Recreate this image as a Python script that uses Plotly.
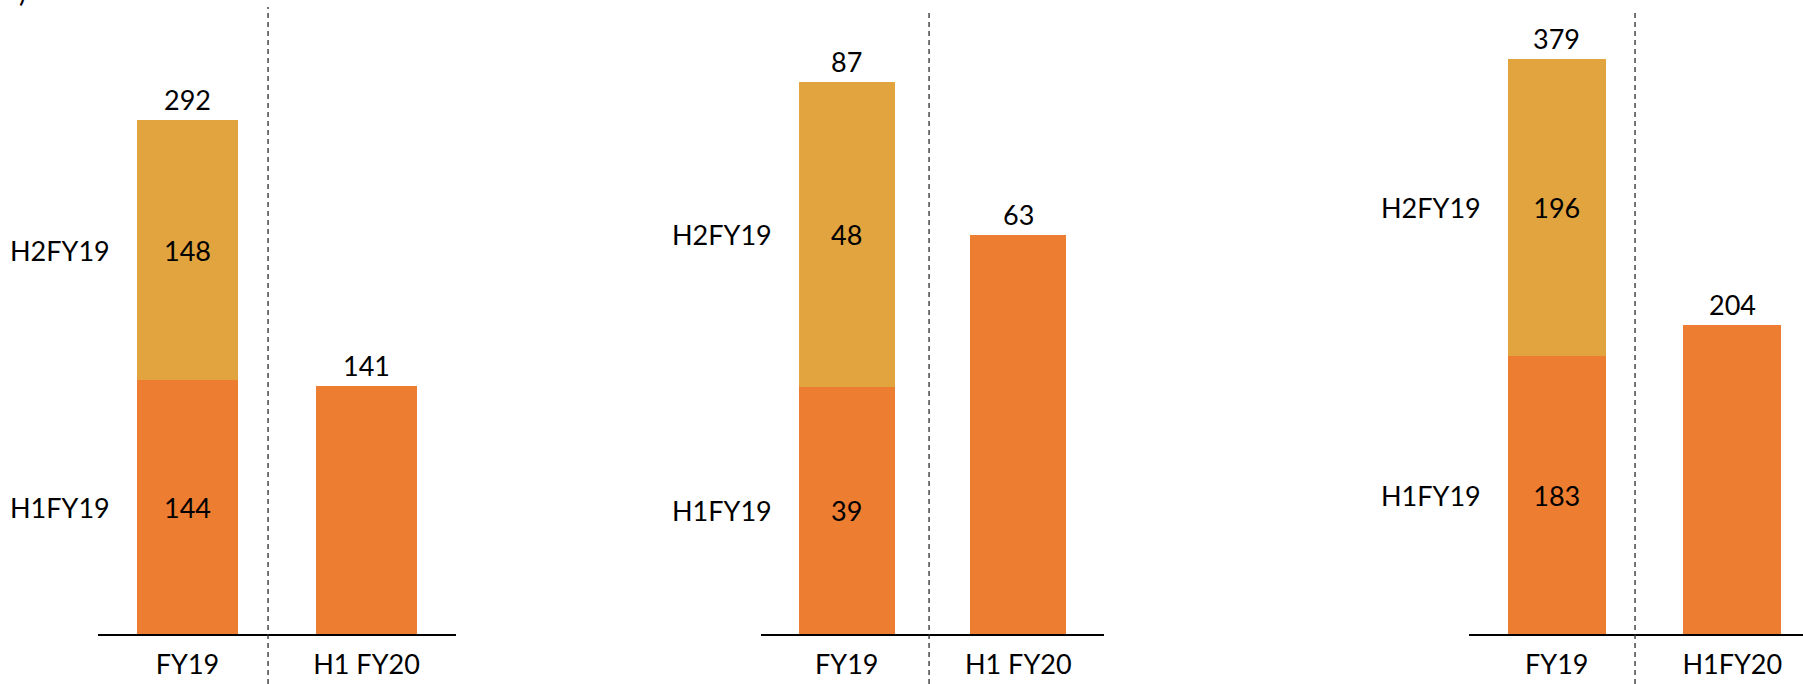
import plotly.graph_objects as go

# Half-year figures for three separate measures, each on its own scale
panel_categories = [["FY19", "H1 FY20"], ["FY19", "H1 FY20"], ["FY19", "H1FY20"]]
h1_values = [[144, 141], [39, 63], [183, 204]]
h2_values = [[148, None], [48, None], [196, None]]
segment_names = ["H1FY19", "H2FY19"]

ORANGE = "#ED7D31"
GOLD = "#E1A43F"
FONT = "Lato"
FONT_SIZE = 27
W, H = 1803, 684

x_domains = [[98 / W, 456 / W], [761 / W, 1104 / W], [1469 / W, 1.0]]
x_ranges = [[-0.5, 1.5], [-0.5, 1.5], [-0.5, 1.403]]
y_ranges = [[0, 360], [0, 100], [0, 418]]
y_domain = [50 / H, 1.0]
divider_x = [0.45, 0.48, 0.446]
divider_top_px = [7, 10, 10]
BAR_W = 0.56

fig = go.Figure()
annotations = []
shapes = []

for i in range(3):
    sfx = "" if i == 0 else str(i + 1)
    cats = panel_categories[i]
    h1 = h1_values[i]
    h2 = h2_values[i]

    fig.add_trace(go.Bar(
        x=cats, y=h1, name=segment_names[0], width=BAR_W,
        marker=dict(color=ORANGE, line=dict(width=0)),
        text=[str(h1[0]), ""], textposition="inside", insidetextanchor="middle",
        textangle=0, textfont=dict(family=FONT, size=FONT_SIZE, color="black"),
        xaxis="x" + sfx, yaxis="y" + sfx, showlegend=False, hoverinfo="skip",
    ))
    fig.add_trace(go.Bar(
        x=cats, y=h2, name=segment_names[1], width=BAR_W,
        marker=dict(color=GOLD, line=dict(width=0)),
        text=[str(h2[0]), ""], textposition="inside", insidetextanchor="middle",
        textangle=0, textfont=dict(family=FONT, size=FONT_SIZE, color="black"),
        xaxis="x" + sfx, yaxis="y" + sfx, showlegend=False, hoverinfo="skip",
    ))

    # totals above each column
    totals = [h1[0] + h2[0], h1[1]]
    for cat, tot in zip(cats, totals):
        annotations.append(dict(
            x=cat, y=tot, xref="x" + sfx, yref="y" + sfx, text=str(tot),
            showarrow=False, yanchor="bottom", yshift=2,
            font=dict(family=FONT, size=FONT_SIZE, color="black"),
        ))

    # half-year names beside the stacked column
    seg_mid = [h1[0] / 2, h1[0] + h2[0] / 2]
    for name, ym in zip(segment_names, seg_mid):
        annotations.append(dict(
            x=-BAR_W / 2, y=ym, xref="x" + sfx, yref="y" + sfx, text=name,
            showarrow=False, xanchor="right", yanchor="middle", xshift=-25,
            font=dict(family=FONT, size=FONT_SIZE, color="black"),
        ))

    # dashed divider between the two columns
    shapes.append(dict(
        type="line", xref="x" + sfx, yref="paper",
        x0=divider_x[i], x1=divider_x[i], y0=0, y1=(H - divider_top_px[i]) / H,
        line=dict(color="#2b2b2b", width=1.3, dash="5px,4px"),
    ))

    fig.update_layout(**{
        "xaxis" + sfx: dict(
            type="category", domain=x_domains[i], range=x_ranges[i],
            anchor="y" + sfx, showline=True, linecolor="black", linewidth=1.5,
            showgrid=False, zeroline=False, ticks="", ticklabelstandoff=6,
            tickfont=dict(family=FONT, size=FONT_SIZE, color="black"),
            fixedrange=True,
        ),
        "yaxis" + sfx: dict(
            domain=y_domain, range=y_ranges[i], anchor="x" + sfx,
            visible=False, showgrid=False, zeroline=False, fixedrange=True,
        ),
    })

# clipped tail of a heading running off the top edge
annotations.append(dict(
    x=22 / W, y=1, xref="paper", yref="paper", text=")", showarrow=False,
    xanchor="center", yanchor="bottom", yshift=-10,
    font=dict(family=FONT, size=FONT_SIZE, color="black"),
))

fig.update_layout(
    width=W, height=H, barmode="stack",
    margin=dict(l=0, r=0, t=0, b=0),
    paper_bgcolor="white", plot_bgcolor="white",
    annotations=annotations, shapes=shapes,
    font=dict(family=FONT, size=FONT_SIZE, color="black"),
    uniformtext=dict(mode=False),
)

fig.write_html("out.html", config={"displayModeBar": False})
